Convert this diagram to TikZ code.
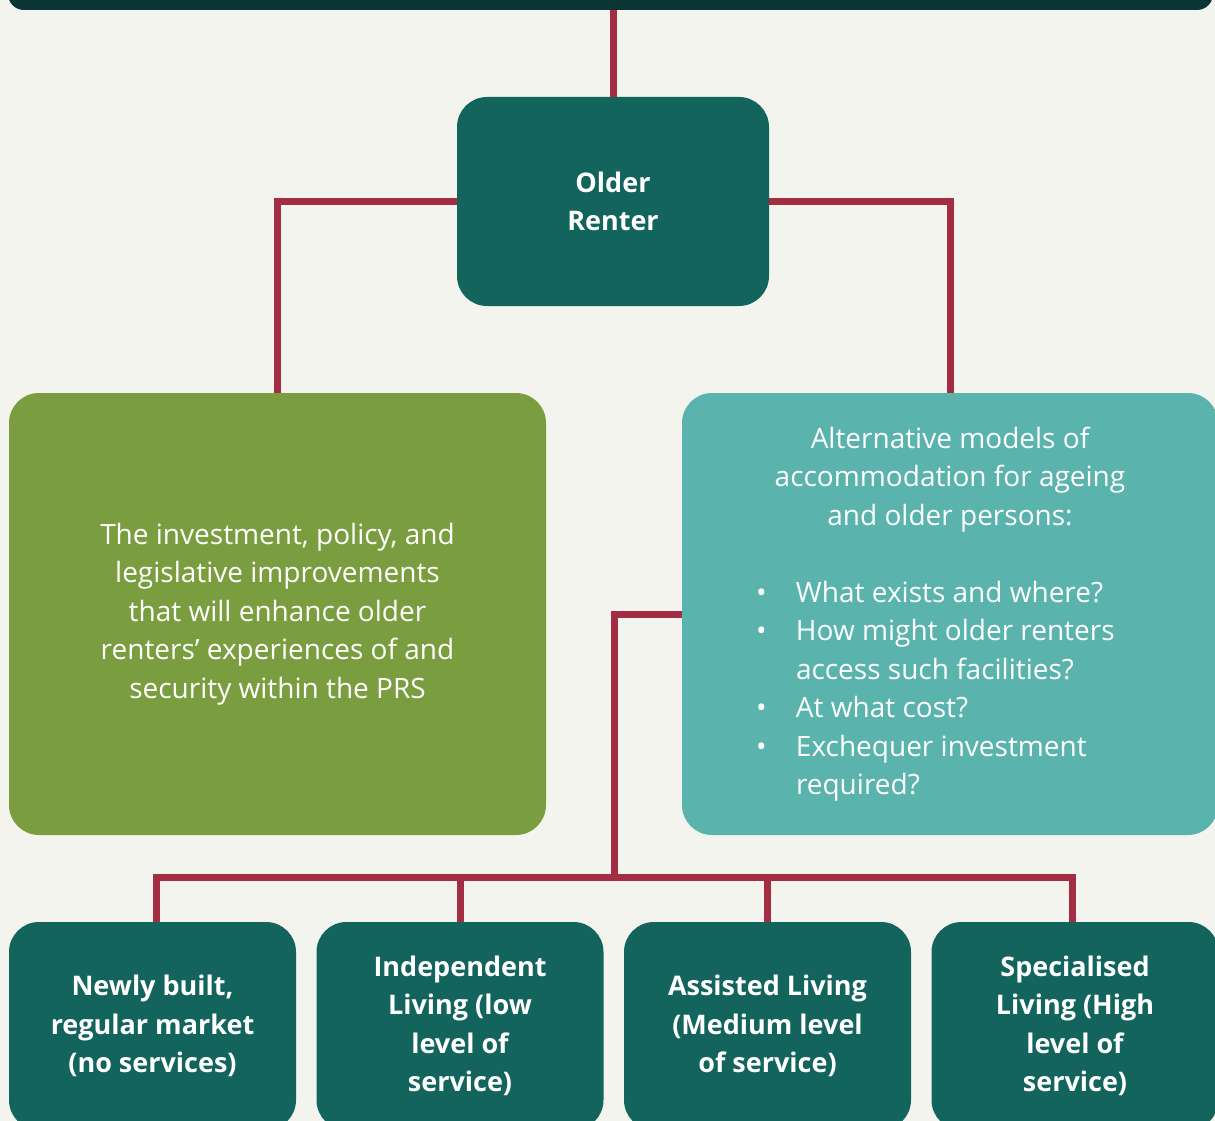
\documentclass[tikz,border=0pt]{standalone}
\usepackage{fontspec}
\setmainfont{Open Sans}
\usetikzlibrary{positioning}

\definecolor{pagebg}{HTML}{F4F4EF}
\definecolor{barteal}{HTML}{0C3636}
\definecolor{deepteal}{HTML}{12645C}
\definecolor{leaf}{HTML}{7A9D3F}
\definecolor{aqua}{HTML}{5AB3AD}
\definecolor{linkred}{HTML}{A32D42}

\tikzset{
  box/.style={rounded corners=30pt, inner sep=0pt, text=white, align=center,
    font=\fontsize{28}{38.5}\selectfont},
  option/.style={box, fill=deepteal, minimum width=287pt, minimum height=208pt,
    font=\fontsize{27}{38.5}\selectfont\bfseries},
  link/.style={draw=linkred, line width=7pt}
}

\begin{document}
\begin{tikzpicture}[x=1pt,y=-1pt]
	\fill[pagebg] (0,0) rectangle (1215,1121);
	\useasboundingbox (0,0) rectangle (1215,1121);
	\clip (0,0) rectangle (1215,1121);

	% boxes
	\node[box, fill=barteal, rounded corners=16pt, minimum width=1205pt, minimum height=70pt] (bar) at (610.5,-25) {};
	\node[box, fill=deepteal, minimum width=312pt, minimum height=209pt, font=\fontsize{27}{38.5}\selectfont\bfseries] (older) at (613,201.5) {Older\\Renter};
	\node[box, fill=leaf, minimum width=537pt, minimum height=442pt] (invest) at (277.5,614) {The investment, policy, and\\legislative improvements\\that will enhance older\\renters’ experiences of and\\security within the PRS};
	\node[box, fill=aqua, minimum width=536pt, minimum height=442pt] (alt) at (950,614) {\parbox{388pt}{\centering
		Alternative models of\\accommodation for ageing\\and older persons:\par
		\vspace{\baselineskip}
		\raggedright
		\makebox[40pt][l]{\textbullet}What exists and where?\\
		\makebox[40pt][l]{\textbullet}How might older renters\\
		\hspace*{40pt}access such facilities?\\
		\makebox[40pt][l]{\textbullet}At what cost?\\
		\makebox[40pt][l]{\textbullet}Exchequer investment\\
		\hspace*{40pt}required?}};

	\node[option] (newbuild) at (152.5,1026) {Newly built,\\regular market\\(no services)};
	\node[option] (indep) at (460,1026) {Independent\\Living (low\\level of\\service)};
	\node[option] (assist) at (767.5,1026) {Assisted Living\\(Medium level\\of service)};
	\node[option] (special) at (1075,1026) {Specialised\\Living (High\\level of\\service)};

	% connectors
	\coordinate (hub) at (614,877);
	\draw[link] (older.north) -- (older.north |- bar.south);
	\draw[link] (older.west) -| (invest.north);
	\draw[link] (older.east) -| (alt.north);
	\draw[link] (alt.west) -| (hub);
	\draw[link] ([xshift=3.5pt]newbuild.north) |- (hub);
	\draw[link] (indep.north) |- (hub);
	\draw[link] (assist.north) |- (hub);
	\draw[link] ([xshift=-3pt]special.north) |- (hub);
\end{tikzpicture}
\end{document}
